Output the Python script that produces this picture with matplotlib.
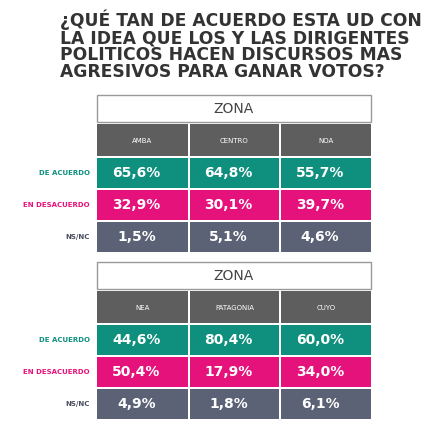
import matplotlib
matplotlib.use("Agg")
import matplotlib.pyplot as plt
from matplotlib.patches import Rectangle

title = "¿QUÉ TAN DE ACUERDO ESTA UD CON\nLA IDEA QUE LOS Y LAS DIRIGENTES\nPOLITICOS HACEN DISCURSOS MAS\nAGRESIVOS PARA GANAR VOTOS?"
row_labels = ["DE ACUERDO", "EN DESACUERDO", "NS/NC"]
zones1 = ["AMBA", "CENTRO", "NOA"]
vals1 = [["65,6%", "64,8%", "55,7%"], ["32,9%", "30,1%", "39,7%"], ["1,5%", "5,1%", "4,6%"]]
zones2 = ["NEA", "PATAGONIA", "CUYO"]
vals2 = [["44,6%", "80,4%", "60,0%"], ["50,4%", "17,9%", "34,0%"], ["4,9%", "1,8%", "6,1%"]]

row_colors = ["#0f8f7d", "#e5127b", "#5b6275"]
label_colors = ["#0f8f7d", "#e5127b", "#4a4f5e"]
hdr_color = "#5e5e5e"

fig = plt.figure(figsize=(4.4, 4.43), dpi=100)
ax = fig.add_axes([0, 0, 1, 1])
ax.set_xlim(0, 440); ax.set_ylim(443, 0); ax.axis("off")

fig.text(60/440, 1-10/443, title, ha="left", va="top", fontsize=12.3, fontweight="bold",
         color="#333333", family="DejaVu Sans", linespacing=0.92)

cols = [(97, 188), (190, 279), (281, 371)]

def table(y0, zones, vals):
    ax.add_patch(Rectangle((97, y0), 274, 27, facecolor="white", edgecolor="#999999", lw=1))
    ax.text(234, y0 + 14, "ZONA", ha="center", va="center", fontsize=10, color="#444444")
    hy = y0 + 29
    for (x0, x1), z in zip(cols, zones):
        ax.add_patch(Rectangle((x0, hy), x1 - x0, 32, facecolor=hdr_color, lw=0))
        ax.text((x0 + x1) / 2, hy + 17, z, ha="center", va="center", fontsize=5, color="white")
    ry = [hy + 34, hy + 66, hy + 98]
    for i in range(3):
        ax.text(90, ry[i] + 15, row_labels[i], ha="right", va="center", fontsize=5,
                fontweight="bold", color=label_colors[i])
        for (x0, x1), v in zip(cols, vals[i]):
            ax.add_patch(Rectangle((x0, ry[i]), x1 - x0, 30, facecolor=row_colors[i], lw=0))
            ax.text((x0 + x1) / 2 - 6, ry[i] + 15, v, ha="center", va="center", fontsize=10,
                    fontweight="bold", color="white")

table(95, zones1, vals1)
table(262, zones2, vals2)

fig.savefig("out.png", dpi=100, facecolor="white")
